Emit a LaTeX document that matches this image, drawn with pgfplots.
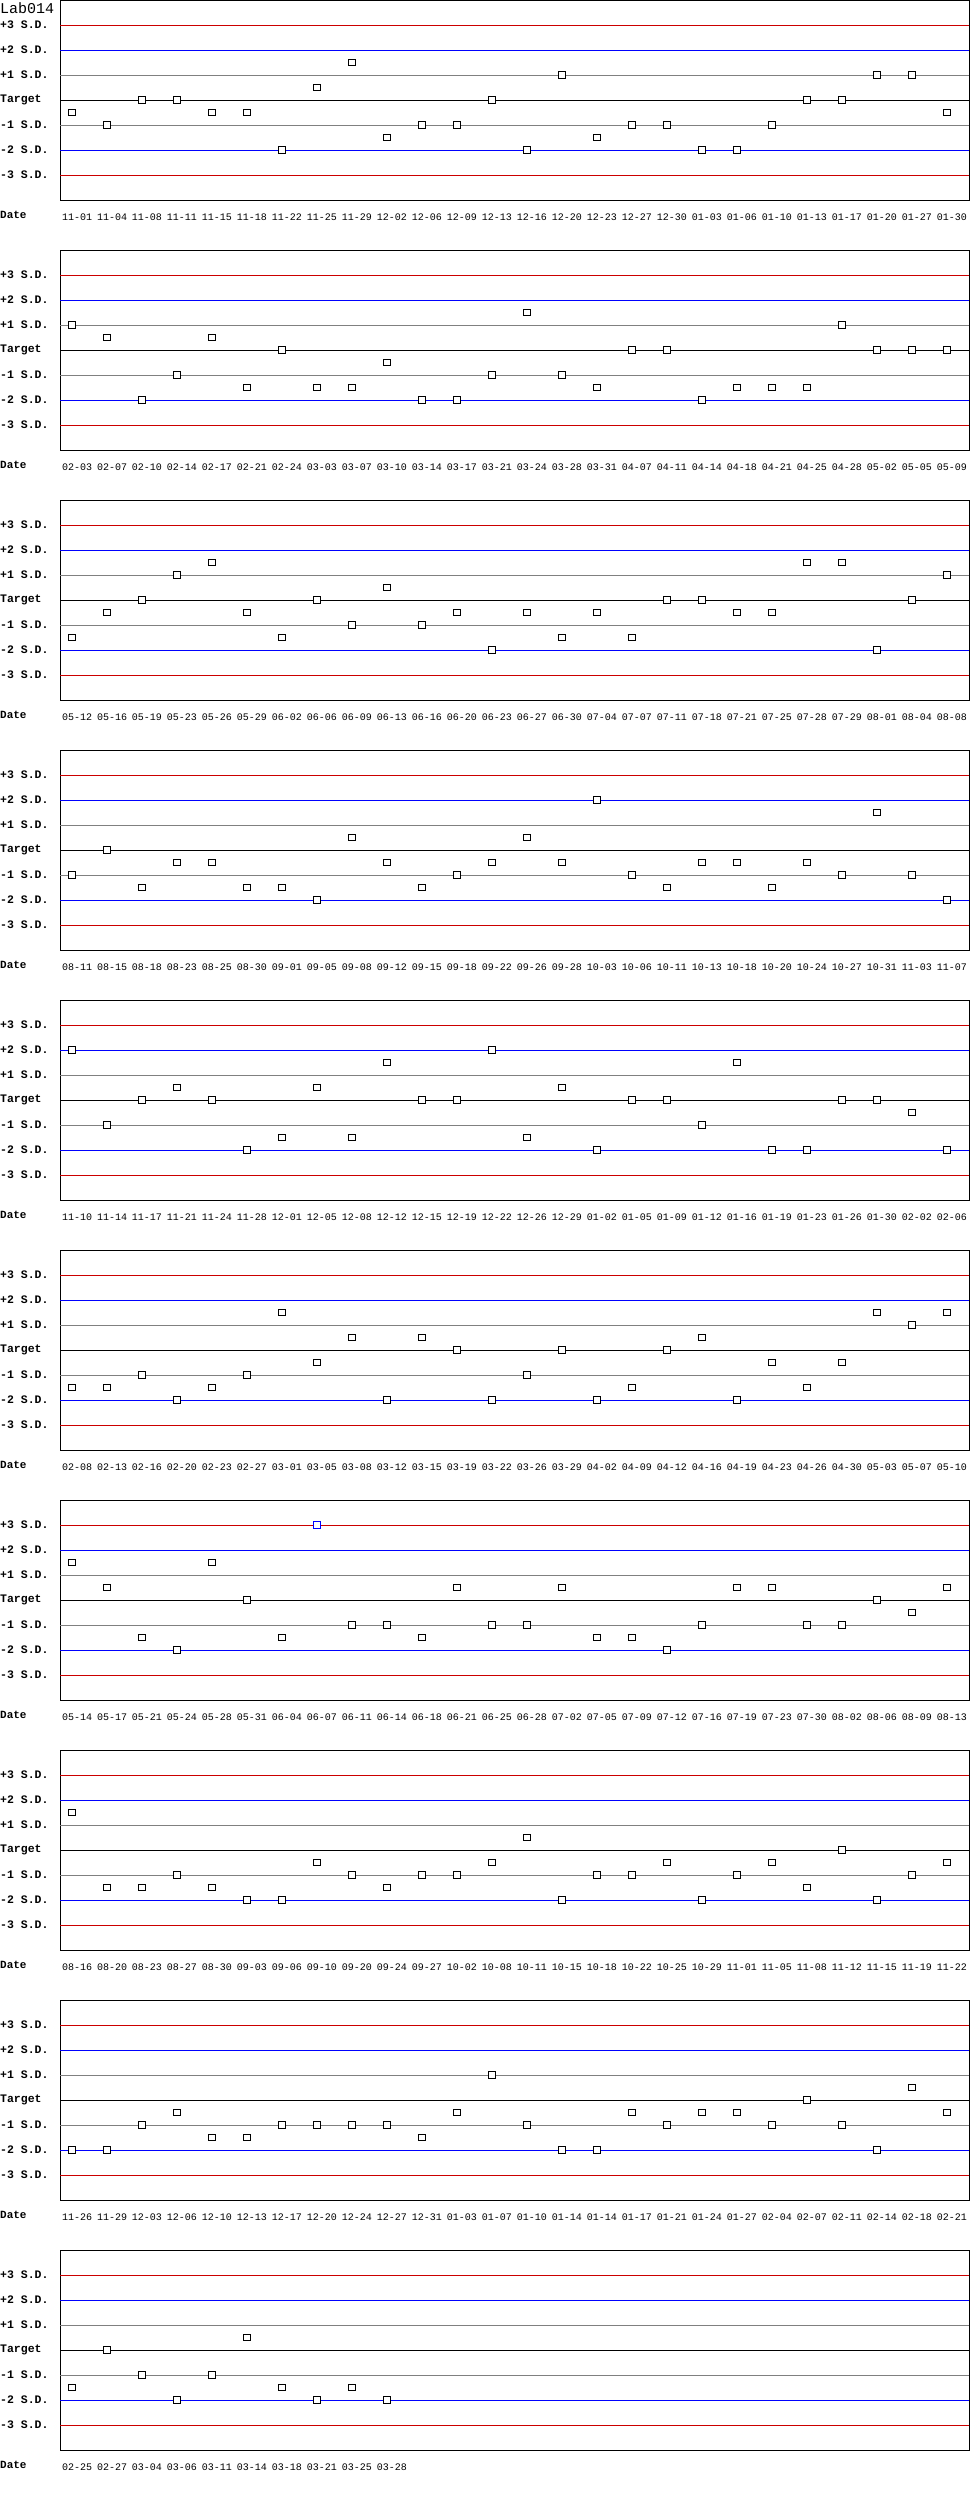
\documentclass[border=0pt]{standalone}
\usepackage{fontspec}
\setmainfont{Liberation Mono}
\usepackage{pgfplots}
\pgfplotsset{compat=1.18}

\definecolor{sdred}{HTML}{CC0000}
\definecolor{sdblue}{HTML}{0000FF}
\definecolor{sdgray}{HTML}{808080}

\pgfplotsset{
  qcpanel/.style={
    scale only axis, width=909pt, height=200pt,
    anchor=north west,
    xmin=-0.343, xmax=25.63, ymin=-4, ymax=4,
    axis line style={line width=1pt},
    ytick={-3,...,3},
    yticklabels={-3 S.D.,-2 S.D.,-1 S.D.,Target,+1 S.D.,+2 S.D.,+3 S.D.},
    major tick length=0pt,
    xticklabel style={font=\fontsize{10}{12}\selectfont, anchor=center, inner sep=0pt, yshift=-17pt, xshift=5pt},
    yticklabel style={font=\fontsize{11.5}{13}\selectfont\bfseries, anchor=west, inner sep=0pt, xshift=-60pt},
    clip=false,
  },
  qcpts/.style={only marks, mark=square*, mark size=3.2pt,
    mark options={fill=white, draw=black, line width=1pt}},
}

% control limit lines and the Date caption, shared by every panel
\newcommand\sdlines{%
  \addplot[sdred, line width=1pt] coordinates {(-0.343,3) (25.63,3)};
  \addplot[sdblue, line width=1pt] coordinates {(-0.343,2) (25.63,2)};
  \addplot[sdgray, line width=1pt] coordinates {(-0.343,1) (25.63,1)};
  \addplot[black, line width=1pt] coordinates {(-0.343,0) (25.63,0)};
  \addplot[sdgray, line width=1pt] coordinates {(-0.343,-1) (25.63,-1)};
  \addplot[sdblue, line width=1pt] coordinates {(-0.343,-2) (25.63,-2)};
  \addplot[sdred, line width=1pt] coordinates {(-0.343,-3) (25.63,-3)};
  \node[anchor=west, inner sep=0pt, xshift=-60pt, yshift=-15pt,
    font=\fontsize{11}{13}\selectfont\bfseries] at (rel axis cs:0,0) {Date};
}

\begin{document}
\begin{tikzpicture}
\useasboundingbox (0pt,0pt) rectangle (970pt,-2500pt);

% panel 1
\begin{axis}[qcpanel, at={(60pt,0pt)}, xtick={0,...,25},
  xticklabels={11-01,11-04,11-08,11-11,11-15,11-18,11-22,11-25,11-29,12-02,12-06,12-09,12-13,12-16,12-20,12-23,12-27,12-30,01-03,01-06,01-10,01-13,01-17,01-20,01-27,01-30}]
\sdlines
\node[anchor=north west, inner sep=0pt, xshift=-60pt, yshift=-2pt,
  font=\fontsize{15}{17}\selectfont] at (rel axis cs:0,1) {Lab014};
\addplot[qcpts] coordinates {(0,-0.5) (1,-1) (2,0) (3,0) (4,-0.5) (5,-0.5) (6,-2) (7,0.5) (8,1.5) (9,-1.5) (10,-1) (11,-1) (12,0) (13,-2) (14,1) (15,-1.5) (16,-1) (17,-1) (18,-2) (19,-2) (20,-1) (21,0) (22,0) (23,1) (24,1) (25,-0.5)};
\end{axis}

% panel 2
\begin{axis}[qcpanel, at={(60pt,-250pt)}, xtick={0,...,25},
  xticklabels={02-03,02-07,02-10,02-14,02-17,02-21,02-24,03-03,03-07,03-10,03-14,03-17,03-21,03-24,03-28,03-31,04-07,04-11,04-14,04-18,04-21,04-25,04-28,05-02,05-05,05-09}]
\sdlines
\addplot[qcpts] coordinates {(0,1) (1,0.5) (2,-2) (3,-1) (4,0.5) (5,-1.5) (6,0) (7,-1.5) (8,-1.5) (9,-0.5) (10,-2) (11,-2) (12,-1) (13,1.5) (14,-1) (15,-1.5) (16,0) (17,0) (18,-2) (19,-1.5) (20,-1.5) (21,-1.5) (22,1) (23,0) (24,0) (25,0)};
\end{axis}

% panel 3
\begin{axis}[qcpanel, at={(60pt,-500pt)}, xtick={0,...,25},
  xticklabels={05-12,05-16,05-19,05-23,05-26,05-29,06-02,06-06,06-09,06-13,06-16,06-20,06-23,06-27,06-30,07-04,07-07,07-11,07-18,07-21,07-25,07-28,07-29,08-01,08-04,08-08}]
\sdlines
\addplot[qcpts] coordinates {(0,-1.5) (1,-0.5) (2,0) (3,1) (4,1.5) (5,-0.5) (6,-1.5) (7,0) (8,-1) (9,0.5) (10,-1) (11,-0.5) (12,-2) (13,-0.5) (14,-1.5) (15,-0.5) (16,-1.5) (17,0) (18,0) (19,-0.5) (20,-0.5) (21,1.5) (22,1.5) (23,-2) (24,0) (25,1)};
\end{axis}

% panel 4
\begin{axis}[qcpanel, at={(60pt,-750pt)}, xtick={0,...,25},
  xticklabels={08-11,08-15,08-18,08-23,08-25,08-30,09-01,09-05,09-08,09-12,09-15,09-18,09-22,09-26,09-28,10-03,10-06,10-11,10-13,10-18,10-20,10-24,10-27,10-31,11-03,11-07}]
\sdlines
\addplot[qcpts] coordinates {(0,-1) (1,0) (2,-1.5) (3,-0.5) (4,-0.5) (5,-1.5) (6,-1.5) (7,-2) (8,0.5) (9,-0.5) (10,-1.5) (11,-1) (12,-0.5) (13,0.5) (14,-0.5) (15,2) (16,-1) (17,-1.5) (18,-0.5) (19,-0.5) (20,-1.5) (21,-0.5) (22,-1) (23,1.5) (24,-1) (25,-2)};
\end{axis}

% panel 5
\begin{axis}[qcpanel, at={(60pt,-1000pt)}, xtick={0,...,25},
  xticklabels={11-10,11-14,11-17,11-21,11-24,11-28,12-01,12-05,12-08,12-12,12-15,12-19,12-22,12-26,12-29,01-02,01-05,01-09,01-12,01-16,01-19,01-23,01-26,01-30,02-02,02-06}]
\sdlines
\addplot[qcpts] coordinates {(0,2) (1,-1) (2,0) (3,0.5) (4,0) (5,-2) (6,-1.5) (7,0.5) (8,-1.5) (9,1.5) (10,0) (11,0) (12,2) (13,-1.5) (14,0.5) (15,-2) (16,0) (17,0) (18,-1) (19,1.5) (20,-2) (21,-2) (22,0) (23,0) (24,-0.5) (25,-2)};
\end{axis}

% panel 6
\begin{axis}[qcpanel, at={(60pt,-1250pt)}, xtick={0,...,25},
  xticklabels={02-08,02-13,02-16,02-20,02-23,02-27,03-01,03-05,03-08,03-12,03-15,03-19,03-22,03-26,03-29,04-02,04-09,04-12,04-16,04-19,04-23,04-26,04-30,05-03,05-07,05-10}]
\sdlines
\addplot[qcpts] coordinates {(0,-1.5) (1,-1.5) (2,-1) (3,-2) (4,-1.5) (5,-1) (6,1.5) (7,-0.5) (8,0.5) (9,-2) (10,0.5) (11,0) (12,-2) (13,-1) (14,0) (15,-2) (16,-1.5) (17,0) (18,0.5) (19,-2) (20,-0.5) (21,-1.5) (22,-0.5) (23,1.5) (24,1) (25,1.5)};
\end{axis}

% panel 7
\begin{axis}[qcpanel, at={(60pt,-1500pt)}, xtick={0,...,25},
  xticklabels={05-14,05-17,05-21,05-24,05-28,05-31,06-04,06-07,06-11,06-14,06-18,06-21,06-25,06-28,07-02,07-05,07-09,07-12,07-16,07-19,07-23,07-30,08-02,08-06,08-09,08-13}]
\sdlines
\addplot[qcpts] coordinates {(0,1.5) (1,0.5) (2,-1.5) (3,-2) (4,1.5) (5,0) (6,-1.5) (8,-1) (9,-1) (10,-1.5) (11,0.5) (12,-1) (13,-1) (14,0.5) (15,-1.5) (16,-1.5) (17,-2) (18,-1) (19,0.5) (20,0.5) (21,-1) (22,-1) (23,0) (24,-0.5) (25,0.5)};
\addplot[qcpts, mark options={fill=white, draw=sdblue, line width=1pt}] coordinates {(7,3)};
\end{axis}

% panel 8
\begin{axis}[qcpanel, at={(60pt,-1750pt)}, xtick={0,...,25},
  xticklabels={08-16,08-20,08-23,08-27,08-30,09-03,09-06,09-10,09-20,09-24,09-27,10-02,10-08,10-11,10-15,10-18,10-22,10-25,10-29,11-01,11-05,11-08,11-12,11-15,11-19,11-22}]
\sdlines
\addplot[qcpts] coordinates {(0,1.5) (1,-1.5) (2,-1.5) (3,-1) (4,-1.5) (5,-2) (6,-2) (7,-0.5) (8,-1) (9,-1.5) (10,-1) (11,-1) (12,-0.5) (13,0.5) (14,-2) (15,-1) (16,-1) (17,-0.5) (18,-2) (19,-1) (20,-0.5) (21,-1.5) (22,0) (23,-2) (24,-1) (25,-0.5)};
\end{axis}

% panel 9
\begin{axis}[qcpanel, at={(60pt,-2000pt)}, xtick={0,...,25},
  xticklabels={11-26,11-29,12-03,12-06,12-10,12-13,12-17,12-20,12-24,12-27,12-31,01-03,01-07,01-10,01-14,01-14,01-17,01-21,01-24,01-27,02-04,02-07,02-11,02-14,02-18,02-21}]
\sdlines
\addplot[qcpts] coordinates {(0,-2) (1,-2) (2,-1) (3,-0.5) (4,-1.5) (5,-1.5) (6,-1) (7,-1) (8,-1) (9,-1) (10,-1.5) (11,-0.5) (12,1) (13,-1) (14,-2) (15,-2) (16,-0.5) (17,-1) (18,-0.5) (19,-0.5) (20,-1) (21,0) (22,-1) (23,-2) (24,0.5) (25,-0.5)};
\end{axis}

% panel 10
\begin{axis}[qcpanel, at={(60pt,-2250pt)}, xtick={0,...,9},
  xticklabels={02-25,02-27,03-04,03-06,03-11,03-14,03-18,03-21,03-25,03-28}]
\sdlines
\addplot[qcpts] coordinates {(0,-1.5) (1,0) (2,-1) (3,-2) (4,-1) (5,0.5) (6,-1.5) (7,-2) (8,-1.5) (9,-2)};
\end{axis}
\end{tikzpicture}
\end{document}
